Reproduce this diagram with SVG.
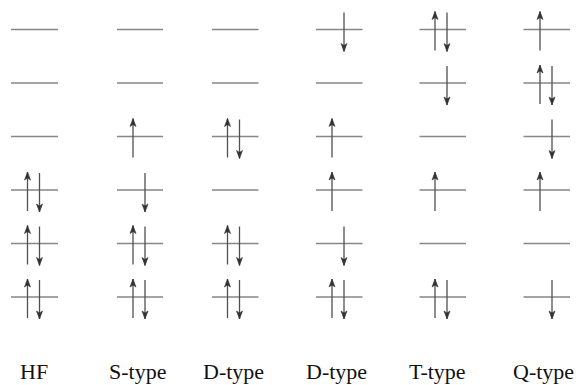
<svg xmlns="http://www.w3.org/2000/svg" width="582" height="385" viewBox="0 0 582 385">
<style>
.lv{stroke:#878787;stroke-width:1.5;fill:none}
.up{stroke:#505050;stroke-width:1.3;fill:none;marker-end:url(#ah)}
.dn{stroke:#505050;stroke-width:1.3;fill:none;marker-end:url(#ah)}
.lb{font-family:"Liberation Serif","Times New Roman",serif;font-size:22px;fill:#111}
</style>
<defs>
<marker id="ah" viewBox="-9 -4 10 8" refX="0" refY="0" markerWidth="10" markerHeight="8" markerUnits="userSpaceOnUse" orient="auto">
<path d="M0,0 L-8,-3 L-6,0 L-8,3 Z" fill="#333" stroke="#333" stroke-width="0.6" stroke-linejoin="round"/>
</marker>
</defs>
<rect width="582" height="385" fill="#fff"/>

<g id="col-HF">
<path class="lv" d="M11,29.5H58M11,83H58M11,136.5H58M11,190H58M11,243.5H58M11,297H58"/>
<line class="up" x1="27.5" y1="211" x2="27.5" y2="172"/><line class="dn" x1="39.5" y1="173" x2="39.5" y2="212"/>
<line class="up" x1="27.5" y1="264.5" x2="27.5" y2="225.5"/><line class="dn" x1="39.5" y1="226.5" x2="39.5" y2="265.5"/>
<line class="up" x1="27.5" y1="318" x2="27.5" y2="279"/><line class="dn" x1="39.5" y1="280" x2="39.5" y2="319"/>
<text class="lb" x="20" y="379">HF</text>
</g>

<g id="col-S">
<path class="lv" d="M117,29.5H163M117,83H163M117,136.5H163M117,190H163M117,243.5H163M117,297H163"/>
<line class="up" x1="133" y1="157.5" x2="133" y2="118.5"/>
<line class="dn" x1="145" y1="173" x2="145" y2="212"/>
<line class="up" x1="133" y1="264.5" x2="133" y2="225.5"/><line class="dn" x1="145" y1="226.5" x2="145" y2="265.5"/>
<line class="up" x1="133" y1="318" x2="133" y2="279"/><line class="dn" x1="145" y1="280" x2="145" y2="319"/>
<text class="lb" x="109" y="379">S-type</text>
</g>

<g id="col-D1">
<path class="lv" d="M212,29.5H258.5M212,83H258.5M212,136.5H258.5M212,190H258.5M212,243.5H258.5M212,297H258.5"/>
<line class="up" x1="227.5" y1="157.5" x2="227.5" y2="118.5"/><line class="dn" x1="239.5" y1="119.5" x2="239.5" y2="158.5"/>
<line class="up" x1="227.5" y1="264.5" x2="227.5" y2="225.5"/><line class="dn" x1="239.5" y1="226.5" x2="239.5" y2="265.5"/>
<line class="up" x1="227.5" y1="318" x2="227.5" y2="279"/><line class="dn" x1="239.5" y1="280" x2="239.5" y2="319"/>
<text class="lb" x="203" y="379">D-type</text>
</g>

<g id="col-D2">
<path class="lv" d="M316,29.5H362.5M316,83H362.5M316,136.5H362.5M316,190H362.5M316,243.5H362.5M316,297H362.5"/>
<line class="dn" x1="344" y1="12.5" x2="344" y2="51.5"/>
<line class="up" x1="332" y1="157.5" x2="332" y2="118.5"/>
<line class="up" x1="332" y1="211" x2="332" y2="172"/>
<line class="dn" x1="344" y1="226.5" x2="344" y2="265.5"/>
<line class="up" x1="332" y1="318" x2="332" y2="279"/><line class="dn" x1="344" y1="280" x2="344" y2="319"/>
<text class="lb" x="306" y="379">D-type</text>
</g>

<g id="col-T">
<path class="lv" d="M419.5,29.5H466M419.5,83H466M419.5,136.5H466M419.5,190H466M419.5,243.5H466M419.5,297H466"/>
<line class="up" x1="435" y1="50.5" x2="435" y2="11.5"/><line class="dn" x1="447" y1="12.5" x2="447" y2="51.5"/>
<line class="dn" x1="447" y1="66" x2="447" y2="105"/>
<line class="up" x1="435" y1="211" x2="435" y2="172"/>
<line class="up" x1="435" y1="318" x2="435" y2="279"/><line class="dn" x1="447" y1="280" x2="447" y2="319"/>
<text class="lb" x="409" y="379">T-type</text>
</g>

<g id="col-Q">
<path class="lv" d="M523.5,29.5H570M523.5,83H570M523.5,136.5H570M523.5,190H570M523.5,243.5H570M523.5,297H570"/>
<line class="up" x1="540" y1="50.5" x2="540" y2="11.5"/>
<line class="up" x1="540" y1="104" x2="540" y2="65"/><line class="dn" x1="552" y1="66" x2="552" y2="105"/>
<line class="dn" x1="552" y1="119.5" x2="552" y2="158.5"/>
<line class="up" x1="540" y1="211" x2="540" y2="172"/>
<line class="dn" x1="552" y1="280" x2="552" y2="319"/>
<text class="lb" x="513" y="379">Q-type</text>
</g>
</svg>
